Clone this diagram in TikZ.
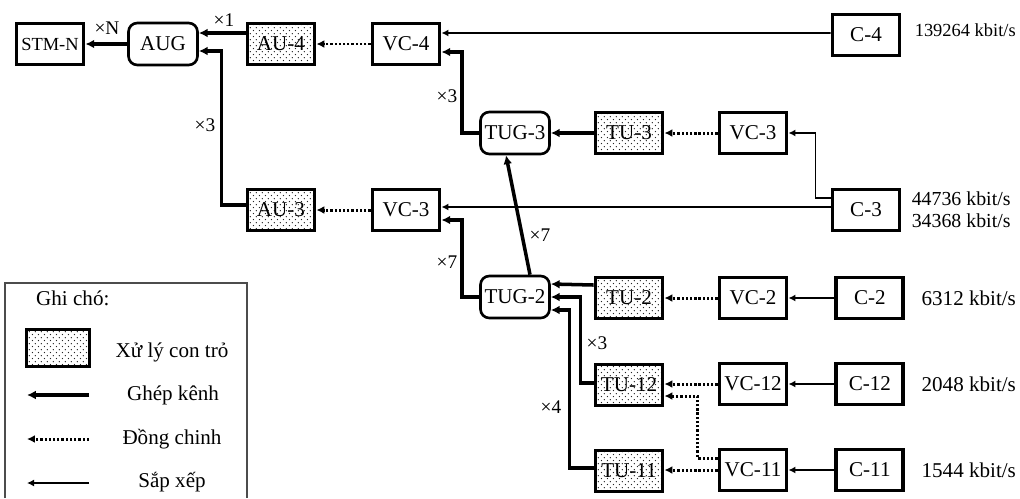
\documentclass[tikz,border=0pt]{standalone}
\usepackage{fontspec}
\setmainfont{Liberation Serif}
\usetikzlibrary{positioning,arrows.meta,patterns.meta}

\tikzdeclarepattern{
  name=ptrdots,
  type=uncolored,
  bounding box={(0pt,0pt) and (3.6pt,3.6pt)},
  tile size={(3.6pt,3.6pt)},
  code={
    \pgfpathcircle{\pgfpoint{0.9pt}{0.9pt}}{0.42pt}
    \pgfpathcircle{\pgfpoint{2.7pt}{2.7pt}}{0.42pt}
    \pgfusepath{fill}
  }
}

\begin{document}
\begin{tikzpicture}[
  x=0.02cm, y=-0.02cm,
  >=Latex,
  every node/.style={font=\fontsize{12}{14}\selectfont},
  box/.style={draw, line width=2.2pt, minimum width=1.34cm, minimum height=0.82cm, inner sep=0pt},
  ptr/.style={box, pattern=ptrdots, pattern color=black!85},
  grp/.style={draw, line width=1.5pt, rounded corners=5pt, minimum width=1.38cm, minimum height=0.84cm, inner sep=0pt},
  mux/.style={-{Latex[length=5pt,width=5pt]}, line width=2pt},
  aln/.style={-{Latex[length=4.5pt,width=4.5pt]}, line width=1.7pt, dash pattern=on 1.3pt off 1.1pt},
  map/.style={-{Latex[length=4pt,width=4pt]}, line width=1pt},
  mult/.style={font=\fontsize{11}{13}\selectfont},
  rate/.style={inner sep=0pt, anchor=west}
]
\useasboundingbox (0,0) rectangle (1020,498);

% Hang tren: STM-N, AUG, AU-4, VC-4, C-4
\node[box, font=\fontsize{10.5}{12}\selectfont] (stm) at (50,44) {STM-N};
\node[grp] (aug) at (163,44) {AUG};
\node[ptr] (au4) at (281,44) {AU-4};
\node[box] (vc4) at (406,44) {VC-4};
\node[box] (c4) at (866,35) {C-4};
\node[rate, right=0.26cm of c4, yshift=0.1cm, font=\fontsize{10.5}{12}\selectfont] (r4) {139264 kbit/s};

% Nhanh TUG-3
\node[grp] (tug3) at (515,133) {TUG-3};
\node[ptr] (tu3) at (629,133) {TU-3};
\node[box] (vc3a) at (753,133) {VC-3};

% Nhanh AU-3
\node[ptr] (au3) at (281,210) {AU-3};
\node[box] (vc3b) at (406,210) {VC-3};
\node[box] (c3) at (866,210) {C-3};
\node[rate, right=0.2cm of c3, align=left, font=\fontsize{11.3}{12.5}\selectfont] (r3) {44736 kbit/s\\34368 kbit/s};

% Nhanh TUG-2
\node[grp] (tug2) at (515,297) {TUG-2};
\node[ptr] (tu2) at (629,298) {TU-2};
\node[box] (vc2) at (753,298) {VC-2};
\node[box, right=0.92cm of vc2] (c2) {C-2};
\node[rate, right=0.32cm of c2] (r2) {6312 kbit/s};

\node[ptr] (tu12) at (629,385) {TU-12};
\node[box] (vc12) at (753,384) {VC-12};
\node[box, right=0.92cm of vc12] (c12) {C-12};
\node[rate, right=0.32cm of c12] (r12) {2048 kbit/s};

\node[ptr] (tu11) at (629,471) {TU-11};
\node[box] (vc11) at (753,470) {VC-11};
\node[box, right=0.92cm of vc11] (c11) {C-11};
\node[rate, right=0.32cm of c11] (r11) {1544 kbit/s};

% Ghep kenh
\draw[mux] (aug) -- (stm);
\draw[mux] ([yshift=0.22cm]au4.west) -- ([yshift=0.22cm]aug.east);
\draw[mux] ([yshift=0.1cm]au3.west) -- ++(-24,0) |- ([yshift=-0.14cm]aug.east);
\draw[mux] (tug3.west) -- ++(-17,0) |- ([yshift=-0.16cm]vc4.east);
\draw[mux] (tu3) -- (tug3);
\draw[mux] (tug2.west) -- ++(-17,0) |- ([yshift=-0.2cm]vc3b.east);
\draw[mux] ([xshift=0.3cm]tug2.north) -- ([xshift=-0.18cm]tug3.south);
\draw[mux] ([yshift=0.26cm]tu2.west) -- ([yshift=0.26cm]tug2.east);
\draw[mux] ([yshift=0.04cm]tu12.west) -- ++(-13,0) |- (tug2.east);
\draw[mux] ([yshift=0.06cm]tu11.west) -- ++(-24,0) |- ([yshift=-0.26cm]tug2.east);

% Dong chinh
\draw[aln] (vc4) -- (au4);
\draw[aln] (vc3a) -- (tu3);
\draw[aln] (vc3b) -- (au3);
\draw[aln] (vc2) -- (tu2);
\draw[aln] (vc12.west) -- (tu12.east |- vc12.west);
\draw[aln] ([yshift=0.24cm]vc11.west) -- ++(-20,0) |- ([yshift=-0.22cm]tu12.east);
\draw[aln] (vc11.west) -- (tu11.east |- vc11.west);

% Sap xep
\draw[map] ([yshift=0.04cm]c4.west) -- ([yshift=0.22cm]vc4.east);
\draw[map] ([yshift=0.24cm]c3.west) -- ++(-15,0) |- (vc3a.east);
\draw[map] ([yshift=0.06cm]c3.west) -- ([yshift=0.06cm]vc3b.east);
\draw[map] (c2) -- (vc2);
\draw[map] (c12) -- (vc12);
\draw[map] (c11) -- (vc11);

% He so
\node[mult] (mN) at (107,28) {×N};
\node[mult] (m1) at (224,20) {×1};
\node[mult] (m3a) at (205,125) {×3};
\node[mult] (m3b) at (447,96) {×3};
\node[mult] (m7a) at (447,262) {×7};
\node[mult] (m7b) at (540,235) {×7};
\node[mult] (m3c) at (597,343) {×3};
\node[mult] (m4) at (551,407) {×4};

% Ghi chu
\draw[gray!60!black, line width=0.7pt] (5,498) -- (5,283) -- (247,283) -- (247,498);
\node[anchor=west] (lgd) at (30,298) {Ghi chó:};
\node[ptr, minimum width=1.26cm, minimum height=0.74cm] (kptr) at (58,348) {};
\node (tptr) at (172,352) {Xử lý con trỏ};
\coordinate (kmux0) at (89,395); \coordinate (kmux1) at (27,395);
\draw[mux] (kmux0) -- (kmux1);
\node (tmux) at (173,395) {Ghép kênh};
\coordinate (kaln0) at (89,439); \coordinate (kaln1) at (27,439);
\draw[aln] (kaln0) -- (kaln1);
\node (taln) at (172,439) {Đồng chinh};
\coordinate (kmap0) at (89,483); \coordinate (kmap1) at (27,483);
\draw[map, line width=1.3pt] (kmap0) -- (kmap1);
\node (tmap) at (172,482) {Sắp xếp};

\end{tikzpicture}
\end{document}
